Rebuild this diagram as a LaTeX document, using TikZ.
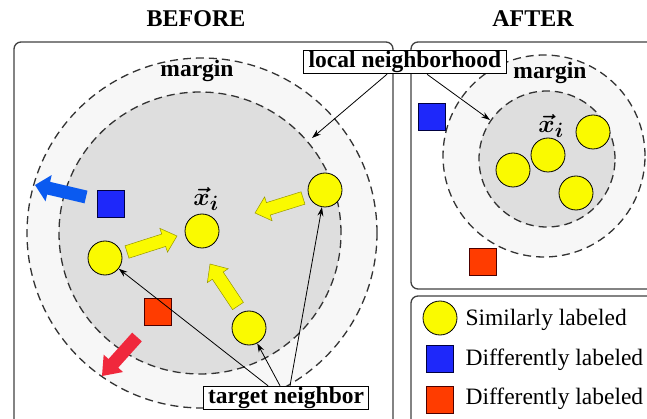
\documentclass[tikz,border=0pt]{standalone}
\usepackage{fontspec}
\setmainfont{Liberation Serif}
\usepackage{amsmath}
\usetikzlibrary{calc,arrows.meta}
\definecolor{ylw}{RGB}{250,250,0}
\definecolor{sqblue}{RGB}{30,40,250}
\definecolor{sqred}{RGB}{255,60,0}
\definecolor{arblue}{RGB}{10,90,240}
\definecolor{arred}{RGB}{240,40,60}
\definecolor{outerfill}{RGB}{247,247,247}
\definecolor{innerfill}{RGB}{222,222,222}
\newcommand{\mkblockarrow}[6]{%
  \coordinate (bah) at ($(#3)!#6!(#2)$);
  \path[#1] ($(#2)!#4!90:(#3)$) -- ($(bah)!#4!90:(#3)$) -- ($(bah)!#5!90:(#3)$) -- (#3)
    -- ($(bah)!#5!-90:(#3)$) -- ($(bah)!#4!-90:(#3)$) -- ($(#2)!#4!-90:(#3)$) -- cycle;}
\newcommand{\xivec}{$\boldsymbol{\vec{x}}_{\boldsymbol{i}}$}
\begin{document}
\begin{tikzpicture}[x=1pt,y=-1pt,
  frame/.style={draw=black!75,line width=1.3pt,rounded corners=7pt},
  dcirc/.style={draw=black!80,line width=1.3pt,dash pattern=on 8pt off 5pt},
  ycirc/.style={circle,draw=black,line width=0.8pt,fill=ylw,minimum size=34pt,inner sep=0pt},
  bsq/.style={draw=black!75!blue,line width=0.8pt,fill=sqblue,minimum size=27pt,inner sep=0pt},
  rsq/.style={draw=black!70!red,line width=0.8pt,fill=sqred,minimum size=27pt,inner sep=0pt},
  lbl/.style={draw=black,line width=1pt,fill=white,font=\fontsize{23.5}{25}\selectfont\bfseries,inner xsep=5pt,inner ysep=1pt},
  title/.style={font=\fontsize{24}{26}\selectfont\bfseries},
  mtext/.style={font=\fontsize{23.5}{25}\selectfont\bfseries},
  xlab/.style={font=\fontsize{30}{32}\selectfont},
  legtext/.style={font=\fontsize{23.5}{25}\selectfont,anchor=west},
  thinarr/.style={draw=black,line width=0.8pt,-{Stealth[length=9pt,width=6pt]}},
  yarr/.style={fill=ylw,draw=black!40!ylw,line width=0.5pt},
  barr/.style={fill=arblue},
  rarr/.style={fill=arred}]
\useasboundingbox (0,0) rectangle (647,419);
% titles
\node[title] (tb) at (196,19) {BEFORE};
\node[title] (ta) at (533,19) {AFTER};
% frames
\draw[frame] (14,42) rectangle (393,440);
\draw[frame] (411,42) rectangle (670,289);
\draw[frame] (411,296) rectangle (670,440);
% BEFORE neighbourhood
\fill[outerfill] (202,233) circle (175pt);
\draw[dcirc] (202,233) circle (175pt);
\fill[innerfill] (200,233) circle (141pt);
\draw[dcirc] (200,233) circle (141pt);
\node[mtext] (mb) at (197,71) {margin};
% AFTER neighbourhood
\fill[outerfill] (544,156) circle (101pt);
\draw[dcirc] (544,156) circle (101pt);
\fill[innerfill] (547,159) circle (68pt);
\draw[dcirc] (547,159) circle (68pt);
\node[mtext] (ma) at (550,73) {margin};
% squares
\node[bsq] (bs1) at (111,204) {};
\node[rsq] (rs1) at (158,312) {};
\node[bsq] (bs2) at (432,117) {};
\node[rsq] (rs2) at (483,262) {};
% block arrows
\coordinate (ba1s) at (86,197); \coordinate (ba1e) at (35,185);
\mkblockarrow{barr}{ba1s}{ba1e}{6.5pt}{13.5pt}{14pt}
\coordinate (ra1s) at (137,337); \coordinate (ra1e) at (102,376);
\mkblockarrow{rarr}{ra1s}{ra1e}{6.5pt}{13pt}{17pt}
\coordinate (ya1s) at (127,252); \coordinate (ya1e) at (177,236);
\mkblockarrow{yarr}{ya1s}{ya1e}{6.5pt}{12.5pt}{14pt}
\coordinate (ya2s) at (238,306); \coordinate (ya2e) at (210,264);
\mkblockarrow{yarr}{ya2s}{ya2e}{6.5pt}{12.5pt}{14pt}
\coordinate (ya3s) at (303,198); \coordinate (ya3e) at (255,213);
\mkblockarrow{yarr}{ya3s}{ya3e}{6.5pt}{12.5pt}{14pt}
% yellow circles BEFORE
\node[ycirc] (cxi) at (202,231) {};
\node[ycirc] (c1) at (105,258) {};
\node[ycirc] (c2) at (249,328) {};
\node[ycirc] (c3) at (325,190) {};
\node[xlab] (xil) at (206,199) {\xivec};
% yellow circles AFTER
\node[ycirc] (d1) at (513,170) {};
\node[ycirc] (d2) at (548,155) {};
\node[ycirc] (d3) at (593,132) {};
\node[ycirc] (d4) at (576,193) {};
\node[xlab] (xia) at (551,126) {\xivec};
% labels
\node[lbl] (tn) at (286,398) {target neighbor};
\node[lbl] (ln) at (405,62) {local neighborhood};
\draw[thinarr] ([xshift=-18pt]tn.north) -- (c1);
\draw[thinarr] ([xshift=-6pt]tn.north) -- (c2);
\draw[thinarr] ([xshift=4pt]tn.north) -- (c3);
\coordinate (lnb) at (312,138);
\coordinate (lna) at (490,120);
\draw[thinarr] ([xshift=-18pt]ln.south) -- (lnb);
\draw[thinarr] ([xshift=22pt]ln.south) -- (lna);
% legend
\node[ycirc] (lc) at (440,318) {};
\node[bsq] (lb) at (440,359) {};
\node[rsq] (lr) at (440,400) {};
\node[legtext] (lt1) at (462,320) {Similarly labeled};
\node[legtext] (lt2) at (462,360) {Differently labeled};
\node[legtext] (lt3) at (462,399) {Differently labeled};
\end{tikzpicture}
\end{document}
